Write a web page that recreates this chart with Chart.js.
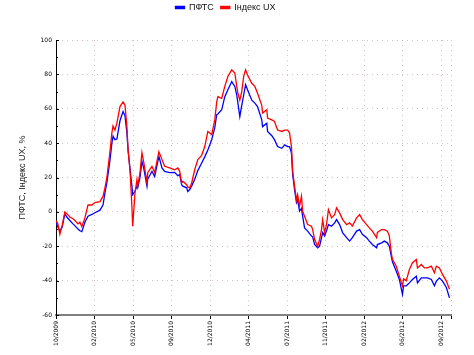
<!DOCTYPE html>
<html><head><meta charset="utf-8">
<script src="https://cdn.jsdelivr.net/npm/chart.js@4/dist/chart.umd.min.js"></script>
<style>html,body{margin:0;padding:0;background:#fff}#w{width:474px;height:355px;position:relative}</style>
</head><body><div id="w"><canvas id="c"></canvas></div>
<script>
const tickLabels = ['10/2009','02/2010','05/2010','09/2010','12/2010','04/2011','07/2011','11/2011','02/2012','06/2012','09/2012'];
const seriesNames = ['ПФТС','Індекс UX'];
const days = [
  0,5,10,16,23,28,36,44,49,57,
  62,67,75,83,93,101,114,122,127,132,
  140,145,148,153,158,166,174,179,184,187,
  192,197,199,205,210,212,218,223,228,236,
  238,249,256,267,275,282,295,308,316,321,
  326,329,339,342,347,352,360,368,378,386,
  394,404,412,417,420,430,438,446,456,464,
  469,472,477,482,487,492,497,508,516,523,
  534,536,547,549,560,567,575,586,593,601,
  606,611,614,619,624,627,632,637,640,645,
  653,663,666,671,679,684,689,692,697,702,
  707,715,723,728,736,744,754,762,769,780,
  788,795,806,813,821,832,834,845,852,860,
  865,870,873,883,891,899,902,909,917,925,
  935,938,948,956,964,974,982,987,995,1003,
  1013,1021];
const pfts = [
  -6,-9,-11,-9,-1,-3,-5,-7,-8,-10,
  -11,-11.5,-6,-2.5,-1.5,-0.5,1,4,11,17,
  30,40,44,42,42.4,53,58.4,56,46,36,
  25,15,10,12,15,14,20,29.4,25,15,
  19,23.6,20.5,32.3,25.6,23.6,22.8,23,21,21.7,
  15.8,15,14,11.8,13,15,19,24,28.4,32,
  36,42,49,56.5,57,59.4,67,71,75.8,73,
  68,63.3,55.5,62,68,74,71,65,63.3,61.3,
  53.5,49.6,51.6,46.8,44.3,42,38,37,39,38,
  38,34.2,22,13,5.4,7,0.4,2,-2.5,-9.3,
  -11.2,-14.1,-14.5,-19,-20.9,-20,-15,-12,-14,-11,
  -7.4,-8.3,-6.4,-4.5,-7.4,-12.2,-15,-17,-15,-11.2,
  -10.3,-13,-15,-17,-19,-20.9,-19,-18,-17,-18,
  -20,-25.8,-29,-34.5,-39.3,-48,-43,-43,-41.3,-39.3,
  -37.4,-41.3,-38.4,-38.4,-38.4,-39.3,-43,-40.3,-38.4,-40.3,
  -44,-50];
const ux = [
  -5,-7,-13,-8,0,-1,-3,-4,-5,-7,
  -6,-8.5,-3.5,4,4,5.4,6,9,14,20,
  35,46,50,47.6,51.6,61.3,64,62,49.7,36,
  24.5,3,-8.4,11,18.7,15,22.8,34.5,28.5,17,
  22.8,26.5,22.8,35,30.4,26.5,25.6,24.5,25.6,23.6,
  16.8,17.8,15.8,14.5,14,16.8,24.5,30.4,32.9,38,
  46.8,45,53.5,64,67,66,73,78.8,82.6,80.8,
  73,69,65,70,78.8,82.6,79.6,74.8,73,69,
  62,57.5,59.4,54.6,53.5,52.6,47.6,46.8,47.6,47.6,
  46,38,24,15,7,10,3.3,9,0.3,-2.5,
  -7.4,-8.3,-10.3,-16,-20,-16,-10.3,-4.5,-12,-7.4,
  1.3,-3.5,-1.6,2.3,-0.6,-4.5,-7.4,-6.4,-8.3,-3.5,
  -1.6,-4.5,-7.4,-9.3,-11.2,-15,-12,-10.3,-10.3,-11.2,
  -14,-23.8,-27.6,-31.6,-37.4,-43.2,-39,-40,-33.5,-29.6,
  -27.7,-32.6,-30.6,-32.6,-32.6,-31.6,-35.4,-31.6,-32.6,-36.4,
  -40.3,-45];
const yTitle = 'ПФТС, Індекс UX, %';

const gridColor = 'rgba(185,150,158,0.6)';

const legendSpace = {
  id: 'legendSpace',
  beforeInit(chart) {
    const fit = chart.legend.fit;
    chart.legend.fit = function () { fit.call(this); this.height = 44; };
  }
};
const innerTicks = {
  id: 'innerTicks',
  afterDraw(chart) {
    const ctx = chart.ctx, ys = chart.scales.y, left = chart.chartArea.left;
    ctx.save();
    ctx.strokeStyle = '#000'; ctx.lineWidth = 1;
    ys.ticks.forEach(t => {
      const py = Math.round(ys.getPixelForValue(t.value)) + 0.5;
      const len = (t.value % 20 === 0) ? 3 : 2;
      ctx.beginPath(); ctx.moveTo(left, py); ctx.lineTo(left + len, py); ctx.stroke();
    });
    ctx.restore();
  }
};

new Chart(document.getElementById('c'), {
  type: 'line',
  data: {
    datasets: [
      { label: seriesNames[0], data: days.map((d, i) => ({x: d, y: pfts[i]})),
        borderColor: '#0000ff', backgroundColor: '#0000ff', borderWidth: 1.3, pointRadius: 0, tension: 0, order: 1 },
      { label: seriesNames[1], data: days.map((d, i) => ({x: d, y: ux[i]})),
        borderColor: '#ff0000', backgroundColor: '#ff0000', borderWidth: 1.3, pointRadius: 0, tension: 0, order: 0 }
    ]
  },
  options: {
    responsive: true, maintainAspectRatio: false, animation: false,
    layout: { padding: { top: -4, right: 23, left: 0, bottom: 0 } },
    plugins: {
      legend: {
        position: 'top', align: 'center',
        labels: { boxWidth: 9, boxHeight: 2, padding: 7, color: '#111',
          font: { family: 'Liberation Sans', size: 9 },
          sort: (a, b) => a.datasetIndex - b.datasetIndex }
      },
      tooltip: { enabled: false }
    },
    scales: {
      x: {
        type: 'linear', min: 0, max: 1025,
        afterFit(s) { s.height = 40; },
        ticks: { stepSize: 100, autoSkip: false, minRotation: 90, maxRotation: 90, padding: 2,
          color: '#000', font: { family: 'DejaVu Sans', size: 6 },
          callback: v => (v % 100 === 0 && tickLabels[v / 100] !== undefined) ? tickLabels[v / 100] : '' },
        grid: { color: gridColor, lineWidth: 1, drawTicks: true, tickLength: 4, tickColor: '#000', tickWidth: 1 },
        border: { display: true, color: '#808080', width: 2, dash: [1, 4] }
      },
      y: {
        min: -60, max: 100,
        afterFit(s) { s.width = 56; },
        ticks: { stepSize: 10, padding: 4, color: '#000', font: { family: 'DejaVu Sans', size: 6 },
          callback: v => (v % 20 === 0) ? String(v) : '' },
        grid: { color: c => (c.tick && c.tick.value % 20 === 0) ? gridColor : 'rgba(0,0,0,0)',
          lineWidth: 1, drawTicks: false },
        border: { display: true, color: '#000', width: 1, dash: [1, 4] },
        title: { display: true, text: yTitle, color: '#222', padding: { top: 17, bottom: 0 },
          font: { family: 'Liberation Sans', size: 9 } }
      }
    }
  },
  plugins: [legendSpace, innerTicks]
});
</script>
</body></html>
